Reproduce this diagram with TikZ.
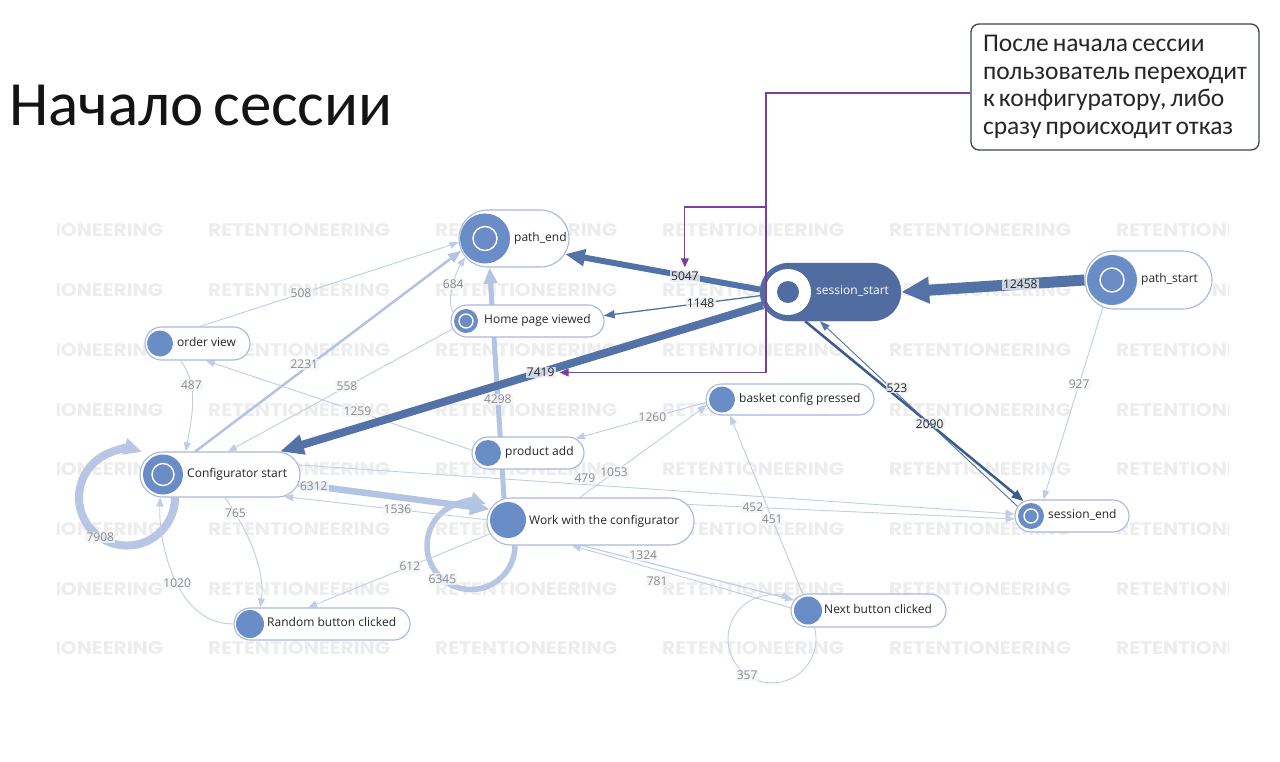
\documentclass[tikz,border=0pt]{standalone}
\usepackage{fontspec}
\setmainfont{Open Sans}
\newfontfamily\calfont{Carlito}[WordSpace=0.7]
\newfontfamily\wmfont{Poppins}
\usetikzlibrary{shapes.misc,arrows.meta}
\pgfdeclarelayer{wmlayer}
\pgfdeclarelayer{edgelayer}
\pgfsetlayers{wmlayer,edgelayer,main}
\definecolor{nodefill}{HTML}{6B8DC7}
\definecolor{nodeborder}{HTML}{A7B9DB}
\definecolor{ssfill}{HTML}{506CA0}
\definecolor{darkedge}{HTML}{5272A8}
\definecolor{navyedge}{HTML}{3D5A8F}
\definecolor{lightedge}{HTML}{B2C4E3}
\definecolor{loopedge}{HTML}{B6C6E4}
\definecolor{thinedge}{HTML}{BFCDE7}
\definecolor{lbltext}{HTML}{8A8A8A}
\definecolor{lblbg}{HTML}{F4F5F7}
\definecolor{dlblbg}{HTML}{ECEEF2}
\definecolor{purp}{HTML}{7B3FA0}
\definecolor{callborder}{HTML}{3B4357}
\definecolor{wm}{HTML}{EDEDED}
\tikzset{
  pill/.style={rounded rectangle, draw=nodeborder, line width=1.1pt, fill=white, inner sep=0pt},
  dot/.style={circle, fill=nodefill, draw=none, inner sep=0pt},
  ring/.style={circle, draw=white, line width=1.4pt, inner sep=0pt},
  ntext/.style={anchor=mid west, inner sep=0pt, font=\fontsize{12}{14}\selectfont, text=black!85},
  lbl/.style={font=\fontsize{12}{13}\selectfont, text=lbltext, fill=lblbg, fill opacity=0.8, text opacity=1, inner sep=1.2pt},
  dlbl/.style={lbl, text=black!85, fill=dlblbg},
  ethin/.style={draw=thinedge, line width=0.9pt, -{Triangle[length=9pt,width=7pt]}},
  emid/.style={draw=lightedge, line width=2.5pt, -{Triangle[length=13pt,width=10pt]}},
  ethick/.style={draw=lightedge, line width=5pt, -{Triangle[length=16pt,width=13pt]}},
  ewide/.style={draw=lightedge, line width=6.5pt, -{Triangle[length=20pt,width=16pt]}},
  wmtext/.style={anchor=west, inner sep=0pt, text=wm},
  purpline/.style={draw=purp, line width=1.1pt},
}
\begin{document}
\begin{tikzpicture}[x=1pt,y=-1pt]
\useasboundingbox (0,0) rectangle (1280,761);

% watermarks
\begin{pgfonlayer}{wmlayer}
\fill[white] (0,0) rectangle (1280,761);
\begin{scope}
\clip (57,212) rectangle (1228,664);
\foreach \yy in {230,290,350,410,469,529,589,648}{
  \foreach \xx in {-19,208,435,662,889,1116}{
    \node[wmtext] (wm-\xx-\yy) at (\xx,\yy) {\resizebox{182pt}{13pt}{\wmfont\bfseries RETENTIONEERING}};
  }}
\end{scope}
\end{pgfonlayer}

% title
\node[anchor=base west, inner sep=0pt, font=\calfont\fontsize{63}{70}\selectfont, text=black!92] (title) at (9,125) {Начало сессии};

% callout
\node[draw=callborder, line width=1.3pt, rounded corners=8pt, fill=white, minimum width=288pt, minimum height=126pt, align=left, font=\calfont\fontsize{25.5}{27.5}\selectfont, text=black!85] (call) at (1115,87) {После начала сессии\\пользователь переходит\\к конфигуратору, либо\\сразу происходит отказ};

% nodes
\node[pill, minimum width=110pt, minimum height=57pt] (pe) at (514,238.5) {};
\node[dot, minimum size=50pt] (pe-c) at (485,238.5) {};
\node[ring, minimum size=24pt] (pe-r) at (485,238.5) {};
\node[ntext] (pe-t) at (514,238.5) {path\_end};

\node[rounded rectangle, fill=ssfill, draw=ssfill, inner sep=0pt, minimum width=141pt, minimum height=58pt] (ss) at (830.5,292) {};
\node[circle, fill=white, inner sep=0pt, minimum size=46pt] (ss-c) at (788,292) {};
\node[circle, fill=ssfill, inner sep=0pt, minimum size=22pt] (ss-r) at (788,292) {};
\node[ntext, text=white] (ss-t) at (816,292) {session\_start};

\node[pill, minimum width=127pt, minimum height=58pt] (ps) at (1148.5,280) {};
\node[dot, minimum size=50pt] (ps-c) at (1112,280) {};
\node[ring, minimum size=24pt] (ps-r) at (1112,280) {};
\node[ntext] (ps-t) at (1141,280) {path\_start};

\node[pill, minimum width=153pt, minimum height=32pt] (hp) at (527.5,321) {};
\node[dot, minimum size=24pt] (hp-c) at (466,321) {};
\node[ring, minimum size=14pt] (hp-r) at (466,321) {};
\node[ntext] (hp-t) at (484,321) {Home page viewed};

\node[pill, minimum width=105pt, minimum height=33pt] (ov) at (197.5,343.5) {};
\node[dot, minimum size=26pt] (ov-c) at (160,343.5) {};
\node[ntext] (ov-t) at (177,343.5) {order view};

\node[pill, minimum width=168pt, minimum height=31pt] (bc) at (790,399.5) {};
\node[dot, minimum size=26pt] (bc-c) at (722,399.5) {};
\node[ntext] (bc-t) at (739,399.5) {basket config pressed};

\node[pill, minimum width=112pt, minimum height=32pt] (pa) at (528,453) {};
\node[dot, minimum size=26pt] (pa-c) at (488,453) {};
\node[ntext] (pa-t) at (505,453) {product add};

\node[pill, minimum width=160pt, minimum height=45pt] (cs) at (220,474.5) {};
\node[dot, minimum size=40pt] (cs-c) at (163,474.5) {};
\node[ring, minimum size=22pt] (cs-r) at (163,474.5) {};
\node[ntext] (cs-t) at (187,474.5) {Configurator start};

\node[pill, minimum width=207pt, minimum height=47pt] (wc) at (590.5,521.5) {};
\node[dot, minimum size=36pt] (wc-c) at (508,520) {};
\node[ntext] (wc-t) at (529,521.5) {Work with the configurator};

\node[pill, minimum width=114pt, minimum height=32pt] (se) at (1072,516) {};
\node[dot, minimum size=26pt] (se-c) at (1031,516) {};
\node[ring, minimum size=14pt] (se-r) at (1031,516) {};
\node[ntext] (se-t) at (1048,516) {session\_end};

\node[pill, minimum width=176pt, minimum height=32pt] (rb) at (322,624) {};
\node[dot, minimum size=28pt] (rb-c) at (250,624) {};
\node[ntext] (rb-t) at (267,624) {Random button clicked};

\node[pill, minimum width=155pt, minimum height=33pt] (nb) at (868.5,610.5) {};
\node[dot, minimum size=28pt] (nb-c) at (808,610.5) {};
\node[ntext] (nb-t) at (824,610.5) {Next button clicked};

% edges
\begin{pgfonlayer}{edgelayer}
% self loops
\draw[draw=loopedge, line width=8pt, -{Triangle[length=18pt,width=16pt]}] ([xshift=-45pt]cs.south) arc[start angle=0, end angle=288, radius=48] node[lbl, pos=0.43] (l7908) {7908};
\draw[draw=loopedge, line width=5.5pt, -{Triangle[length=16pt,width=13pt]}] ([xshift=-75.5pt]wc.south) arc[start angle=0, end angle=290, radius=44] node[lbl, pos=0.45] (l6345) {6345};
\draw[ethin] ([xshift=-54pt]nb.south) arc[start angle=-15, end angle=295, radius=44] node[lbl, pos=0.45] (l357) {357};

% light edges
\draw[ethin] (ov.81) -- node[lbl, pos=0.39] (l508) {508} (pe.184);
\draw[ethin] (hp.173) .. controls +(-8,-12) and +(-8,12) .. node[lbl, pos=0.5] (l684) {684} (pe.201);
\draw[emid] (cs.137) -- node[lbl, pos=0.41, yshift=5pt] (l2231) {2231} (pe.193);
\draw[ethick] (wc.165) -- node[lbl, pos=0.43] (l4298) {4298} (pe.230);
\draw[ethin] (ov.225) .. controls +(20,25) and +(5,-30) .. node[lbl, pos=0.3] (l487) {487} (cs.146);
\draw[ethin] (hp.186) -- node[lbl, pos=0.47] (l558) {558} (cs.71);
\draw[ethin] (pa.177) -- node[lbl, pos=0.43] (l1259) {1259} (ov.296);
\draw[ethin] (bc.182) -- node[lbl, pos=0.41] (l1260) {1260} (pa.17);
\draw[ethin] (wc.114) -- node[lbl, pos=0.27] (l1053) {1053} (bc.184);
\draw[ethin] (cs.7) -- node[lbl, pos=0.40, yshift=6pt] (l479) {479} (se.178);
\draw[ethin] (wc.10) -- node[lbl, pos=0.2] (l452) {452} (se.183);
\draw[ethin] (nb.166) -- node[lbl, pos=0.42] (l451) {451} (bc.195);
\draw[ewide] (cs.353) -- node[lbl, pos=0.08] (l6312) {6312} (wc.173);
\draw[ethin] (wc.179) -- node[lbl, pos=0.44] (l1536) {1536} (cs.341);
\draw[ethin] (wc.187) -- node[lbl, pos=0.44] (l612) {612} (rb.130);
\draw[ethin, line width=1.2pt] (wc.250) -- node[lbl, pos=0.29, yshift=6pt] (l1324) {1324} (nb.172);
\draw[ethin] (nb.178) -- node[lbl, pos=0.61, yshift=-11pt] (l781) {781} (wc.232);
\draw[ethin] (cs.282) .. controls +(25,35) and +(5,-35) .. node[lbl, pos=0.15] (l765) {765} (rb.165);
\draw[ethin] (rb.west) .. controls +(-60,0) and +(-2,40) .. node[lbl, pos=0.45] (l1020) {1020} (cs.201);
\draw[ethin] (ps.211) -- node[lbl, pos=0.4] (l927) {927} (se.150);

% dark edges
\draw[draw=navyedge, line width=2.5pt, -{Triangle[length=12pt,width=9pt]}] (ss.229) -- node[dlbl, pos=0.57] (l2090) {2090} (se.163);
\draw[draw=darkedge, line width=0.9pt, -{Triangle[length=10pt,width=7pt]}] (se.170) -- node[dlbl, pos=0.64, xshift=6pt] (l523) {523} (ss.250);
\draw[draw=darkedge, line width=1.3pt, -{Triangle[length=11pt,width=8pt]}] (ss.183) -- node[dlbl, pos=0.38] (l1148) {1148} (hp.4);
\draw[draw=darkedge, line width=6pt, -{Triangle[length=20pt,width=16pt]}] (ss.178) -- node[dlbl, pos=0.385] (l5047) {5047} (pe.343);
\draw[draw=darkedge, line width=8pt, -{Triangle[length=24pt,width=19pt]}] (ss.191) -- node[dlbl, pos=0.46] (l7419) {7419} (cs.21);
\draw[draw=darkedge, line width=11pt, -{Triangle[length=28pt,width=25pt]}] (ps.west) -- node[dlbl, pos=0.35] (l12458) {12458} (ss.east);
\end{pgfonlayer}

% purple annotation connectors
\coordinate (pv) at (766,207);
\coordinate (pvx) at (766,300);
\draw[purpline, -{Triangle[length=9pt,width=8pt]}] ([yshift=-6pt]call.west) -| (pvx) |- (l7419.east);
\draw[purpline, -{Triangle[length=9pt,width=8pt]}] (pv) -| (l5047.north);
\end{tikzpicture}
\end{document}
